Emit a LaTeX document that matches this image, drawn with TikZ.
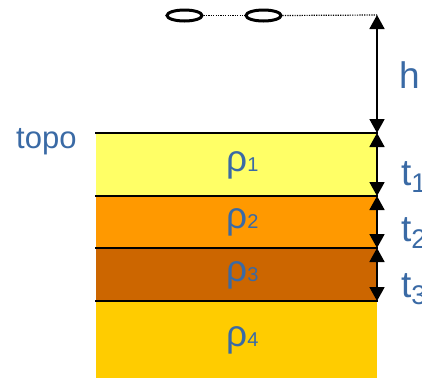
\documentclass[tikz,border=0pt]{standalone}
\usepackage{fontspec}
\setmainfont{Liberation Sans}
\usetikzlibrary{arrows.meta,shapes.geometric}
\definecolor{lblue}{HTML}{3A6AA5}
\definecolor{lay1}{HTML}{FFFF66}
\definecolor{lay2}{HTML}{FF9900}
\definecolor{lay3}{HTML}{CC6600}
\definecolor{lay4}{HTML}{FFCC00}
\tikzset{
  layer/.style={anchor=north west, inner sep=0, outer sep=0, minimum width=281pt, fill=#1},
  bound/.style={line width=1.6pt, black},
  dim/.style={line width=1.8pt, {Triangle[width=15pt,length=14pt]}-{Triangle[width=15pt,length=14pt]}},
  big/.style={font=\fontsize{37}{37}\selectfont, text=lblue, anchor=base west, inner sep=0},
  rho/.style={font=\fontsize{37}{37}\selectfont, text=lblue, anchor=base west, inner sep=0},
  loop/.style={draw, ellipse, line width=3pt, minimum width=35pt, minimum height=11pt, inner sep=0},
  dots/.style={line width=1.2pt, dash pattern=on 1.2pt off 1.2pt},
}
\newcommand{\bigsub}[1]{\raisebox{-7pt}{\fontsize{27}{27}\selectfont #1}}
\newcommand{\rhosub}[1]{{\fontsize{20}{20}\selectfont #1}}
\begin{document}
\begin{tikzpicture}[x=1pt,y=-1pt]
\useasboundingbox (0,0) rectangle (422,378);
\node[layer=lay1, minimum height=63pt] (l1) at (96,133) {};
\node[layer=lay2, minimum height=52pt] (l2) at (96,196) {};
\node[layer=lay3, minimum height=53pt] (l3) at (96,248) {};
\node[layer=lay4, minimum height=77pt] (l4) at (96,301) {};
\draw[bound] ([xshift=-1pt]l1.north west) -- ([xshift=1pt]l1.north east);
\draw[bound] ([xshift=-1pt]l2.north west) -- ([xshift=1pt]l2.north east);
\draw[bound] ([xshift=-1pt]l3.north west) -- ([xshift=1pt]l3.north east);
\draw[bound] ([xshift=-1pt]l4.north west) -- ([xshift=1pt]l4.north east);
% loops
\node[loop] (e1) at (184.5,15.5) {};
\node[loop] (e2) at (263.5,15.5) {};
\coordinate (top) at (377,15);
\draw[dots] (e1.east) -- (e2.west);
\draw[dots] (e2.east) -- (top);
% dimension arrows
\coordinate (b1) at (377,133);
\coordinate (b2) at (377,196);
\coordinate (b3) at (377,248);
\coordinate (b4) at (377,301);
\draw[dim] (top) -- (b1);
\draw[dim] (b1) -- (b2);
\draw[dim] (b2) -- (b3);
\draw[dim] (b3) -- (b4);
% labels
\node[big] (h) at (399,88) {h};
\node[big] (t1) at (401,185) {t\bigsub{1}};
\node[big] (t2) at (401,241) {t\bigsub{2}};
\node[big] (t3) at (401,297) {t\bigsub{3}};
\node[big, font=\fontsize{31}{31}\selectfont] (topo) at (16,148) {topo};
\node[rho] (r1) at (226,171) {ρ\rhosub{1}};
\node[rho] (r2) at (226,228.5) {ρ\rhosub{2}};
\node[rho] (r3) at (226,281) {ρ\rhosub{3}};
\node[rho] (r4) at (226,346) {ρ\rhosub{4}};
\end{tikzpicture}
\end{document}
